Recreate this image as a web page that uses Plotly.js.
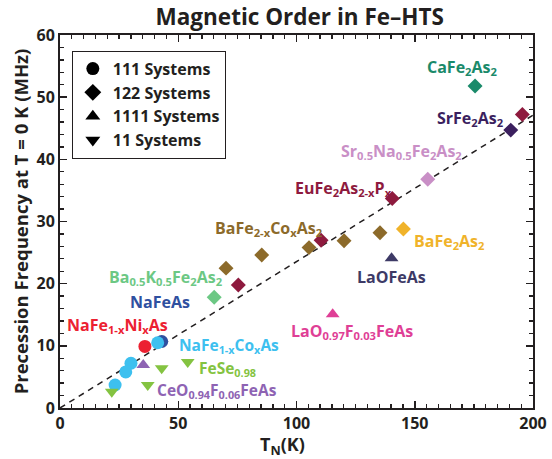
<!DOCTYPE html>
<html>
<head>
<meta charset="utf-8">
<script src="https://cdn.plot.ly/plotly-3.0.1.min.js"></script>
<style>
  html, body { margin: 0; padding: 0; background: #fff; }
  #chart { width: 552px; height: 459px; }
</style>
</head>
<body>
<div id="chart"></div>
<script>
// Néel temperature (K) and zero-temperature muon precession frequency (MHz)
// 111 systems
const naFeAsT = [43.0];
const naFeAsF = [10.7];
const naFeNiAsT = [35.9];
const naFeNiAsF = [9.9];
const naFeCoAsT = [41.3, 30.0, 27.8, 23.3];
const naFeCoAsF = [10.5, 7.2, 5.8, 3.7];

// 122 systems
const baKFe2As2T = [65.2];
const baKFe2As2F = [17.8];
const baFeCoAs2T = [70.2, 85.3, 105.3, 120.1, 135.3];
const baFeCoAs2F = [22.5, 24.6, 25.8, 26.9, 28.2];
const euFe2AsPT = [75.4, 110.4, 140.5, 195.5];
const euFe2AsPF = [19.8, 27.0, 33.7, 47.2];
const baFe2As2T = [145.2];
const baFe2As2F = [28.8];
const srNaFe2As2T = [155.5];
const srNaFe2As2F = [36.8];
const srFe2As2T = [190.6];
const srFe2As2F = [44.7];
const caFe2As2T = [175.5];
const caFe2As2F = [51.8];

// 1111 systems
const ceOFFeAsT = [35.2];
const ceOFFeAsF = [6.9];
const laOFeAsT = [140.2];
const laOFeAsF = [24.1];
const laOFFeAsT = [115.3];
const laOFFeAsF = [15.1];

// 11 systems
const feSeT = [21.9, 37.1, 43.0, 54.0];
const feSeF = [2.6, 3.7, 6.4, 7.4];

// guide line through the origin
const guideT = [0, 200];
const guideF = [0, 47.1];

// legend entries
const legendNames = ['111 Systems', '122 Systems', '1111 Systems', '11 Systems'];
const legendSymbols = ['circle', 'diamond', 'triangle-up', 'triangle-down'];

const FONT = '"Open Sans", "DejaVu Sans", sans-serif';
const INK = '#231f20';

function pts(x, y, color, symbol, size) {
  return {
    type: 'scatter', mode: 'markers', x: x, y: y, showlegend: false,
    hoverinfo: 'skip', cliponaxis: false,
    marker: { color: color, symbol: symbol, size: size, line: { width: 0 } }
  };
}

const traces = [
  {
    type: 'scatter', mode: 'lines', x: guideT, y: guideF, showlegend: false,
    hoverinfo: 'skip', line: { color: INK, width: 1.5, dash: '6px,5px' }
  },
  pts(naFeAsT, naFeAsF, '#2f50a0', 'circle', 13),
  pts(naFeNiAsT, naFeNiAsF, '#ec2131', 'circle', 13),
  pts(naFeCoAsT, naFeCoAsF, '#3dc0ef', 'circle', 13),
  pts(baKFe2As2T, baKFe2As2F, '#6cc884', 'diamond', 11.5),
  pts(baFeCoAs2T, baFeCoAs2F, '#8c6a2a', 'diamond', 11.5),
  pts(euFe2AsPT, euFe2AsPF, '#8e1a3e', 'diamond', 11.5),
  pts(baFe2As2T, baFe2As2F, '#f0b32a', 'diamond', 11.5),
  pts(srNaFe2As2T, srNaFe2As2F, '#c98fc6', 'diamond', 11.5),
  pts(srFe2As2T, srFe2As2F, '#3b1f5e', 'diamond', 11.5),
  pts(caFe2As2T, caFe2As2F, '#1a8a6a', 'diamond', 11.5),
  pts(ceOFFeAsT, ceOFFeAsF, '#8e63b3', 'triangle-up', 12),
  pts(laOFeAsT, laOFeAsF, '#3d3a66', 'triangle-up', 12),
  pts(laOFFeAsT, laOFFeAsF, '#df3f96', 'triangle-up', 12),
  pts(feSeT, feSeF, '#84c341', 'triangle-down', 12)
];

legendNames.forEach(function (name, i) {
  traces.push({
    type: 'scatter', mode: 'markers', x: [null], y: [null], name: name,
    showlegend: true, hoverinfo: 'skip',
    marker: { color: '#000', symbol: legendSymbols[i], size: 13, line: { width: 0 } }
  });
});

function lbl(text, x, y, color, size) {
  return {
    text: text, x: x, y: y, xref: 'x', yref: 'y', showarrow: false,
    xanchor: 'center', yanchor: 'middle',
    font: { family: FONT, size: size || 16, color: color, weight: 'bold' }
  };
}

const annotations = [
  lbl('CaFe<sub>2</sub>As<sub>2</sub>', 170, 54.8, '#1a8a6a'),
  lbl('SrFe<sub>2</sub>As<sub>2</sub>', 173.4, 46.6, '#3b1f5e'),
  lbl('Sr<sub>0.5</sub>Na<sub>0.5</sub>Fe<sub>2</sub>As<sub>2</sub>', 144.2, 41.3, '#c98fc6'),
  lbl('EuFe<sub>2</sub>As<sub>2-x</sub>P<sub>x</sub>', 119.7, 35.3, '#8e1a3e'),
  lbl('BaFe<sub>2-x</sub>Co<sub>x</sub>As<sub>2</sub>', 88.4, 28.8, '#8c6a2a'),
  lbl('BaFe<sub>2</sub>As<sub>2</sub>', 164.5, 26.8, '#f0b32a'),
  lbl('LaOFeAs', 140, 21.1, '#3d3a66'),
  lbl('Ba<sub>0.5</sub>K<sub>0.5</sub>Fe<sub>2</sub>As<sub>2</sub>', 44.8, 21.0, '#6cc884'),
  lbl('NaFeAs', 42.3, 17.0, '#2f50a0'),
  lbl('NaFe<sub>1-x</sub>Ni<sub>x</sub>As', 24.1, 13.2, '#ec2131'),
  lbl('NaFe<sub>1-x</sub>Co<sub>x</sub>As', 71.5, 10.1, '#3dc0ef', 15.5),
  lbl('FeSe<sub>0.98</sub>', 71.0, 6.3, '#84c341', 15.5),
  lbl('CeO<sub>0.94</sub>F<sub>0.06</sub>FeAs', 66.4, 2.8, '#8e63b3', 15.5),
  lbl('LaO<sub>0.97</sub>F<sub>0.03</sub>FeAs', 123.5, 12.3, '#df3f96'),
  // x-axis title
  {
    text: 'T<sub>N</sub>(K)', xref: 'paper', yref: 'paper', x: 0.47, y: -0.06,
    xanchor: 'center', yanchor: 'top', showarrow: false,
    font: { family: FONT, size: 18, color: INK, weight: 'bold' }
  }
];

const axisCommon = {
  showgrid: false, zeroline: false, showline: true, linecolor: INK, linewidth: 2,
  mirror: 'allticks', ticks: 'inside', ticklen: 7, tickwidth: 1.5, tickcolor: INK,
  tickfont: { family: FONT, size: 16, color: INK, weight: 'bold' }
};

const layout = {
  width: 552, height: 459,
  margin: { l: 60, r: 19, t: 35, b: 51 },
  paper_bgcolor: '#fff', plot_bgcolor: '#fff',
  title: {
    text: 'Magnetic Order in Fe\u2013HTS', x: 0.543, xanchor: 'center', y: 0.963, yanchor: 'middle',
    font: { family: FONT, size: 22.5, color: INK, weight: 'bold' }
  },
  xaxis: Object.assign({}, axisCommon, {
    range: [0, 200], tickvals: [0, 50, 100, 150, 200],
    minor: { dtick: 5, tick0: 0, ticks: 'inside', ticklen: 4, tickwidth: 1.3, tickcolor: INK }
  }),
  yaxis: Object.assign({}, axisCommon, {
    range: [0, 60], tickvals: [0, 10, 20, 30, 40, 50, 60],
    minor: { dtick: 2, tick0: 0, ticks: 'inside', ticklen: 4, tickwidth: 1.3, tickcolor: INK },
    title: { text: 'Precession Frequency at T = 0 K (MHz)', standoff: 3,
      font: { family: FONT, size: 18.5, color: INK, weight: 'bold' } }
  }),
  legend: {
    x: 0.025, y: 0.958, xanchor: 'left', yanchor: 'top',
    bgcolor: '#fff', bordercolor: INK, borderwidth: 1,
    font: { family: FONT, size: 16, color: INK, weight: 'bold' },
    itemwidth: 30, tracegroupgap: 0
  },
  annotations: annotations,
  showlegend: true
};

Plotly.newPlot('chart', traces, layout, { displayModeBar: false, staticPlot: true });
</script>
</body>
</html>
